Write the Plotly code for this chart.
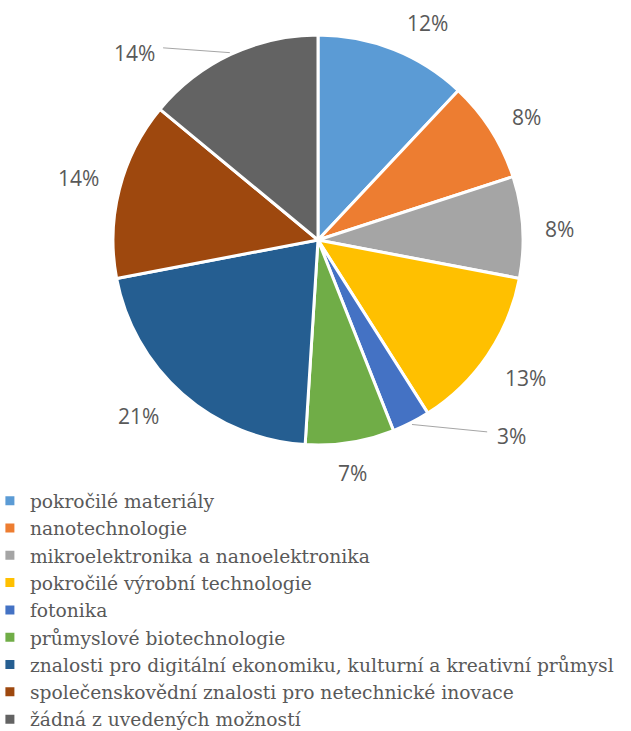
import math
import plotly.graph_objects as go

categories = [
    "pokročilé materiály",
    "nanotechnologie",
    "mikroelektronika a nanoelektronika",
    "pokročilé výrobní technologie",
    "fotonika",
    "průmyslové biotechnologie",
    "znalosti pro digitální ekonomiku, kulturní a kreativní průmysl",
    "společenskovědní znalosti pro netechnické inovace",
    "žádná z uvedených možností",
]
values = [12, 8, 8, 13, 3, 7, 21, 14, 14]
colors = ["#5B9BD5", "#ED7D31", "#A5A5A5", "#FFC000", "#4472C4",
          "#70AD47", "#255E91", "#9E480E", "#636363"]

W, H = 631, 731
CX, CY, R = 318, 240, 205  # pie centre and radius in pixels

# label placement style: (angle shift in degrees from slice middle, radius factor)
label_adjust = [(5.1, 1.184), (1.9, 1.183), (1.0, 1.177), (-0.5, 1.214),
                (-17.6, 1.342), (0.5, 1.149), (4.2, 1.228), (0.1, 1.209),
                (-19.3, 1.28)]
# leader lines: slice index -> (x gap from label centre, y shift)
leader = {4: (24, -4), 8: (29, -5)}

fig = go.Figure()
fig.add_trace(go.Pie(
    labels=categories, values=values, sort=False, direction="clockwise",
    rotation=0,
    marker=dict(colors=colors, line=dict(color="white", width=3)),
    textinfo="none", hoverinfo="label+percent",
    domain=dict(x=[(CX - R) / W, (CX + R) / W], y=[1 - (CY + R) / H, 1 - (CY - R) / H]),
))

total = sum(values)
cum = 0
annotations = []
shapes = []
for i, v in enumerate(values):
    mid = (cum + v / 2) / total * 360
    cum += v
    dang, rf = label_adjust[i]
    a = math.radians(mid + dang)
    lx = CX + R * rf * math.sin(a)
    ly = CY - R * rf * math.cos(a)
    pct = f"{round(v / total * 100)}%"
    annotations.append(dict(x=lx / W, y=1 - ly / H, xref="paper", yref="paper",
                            xanchor="center", yanchor="middle",
                            text=pct, showarrow=False,
                            font=dict(family="Open Sans", size=21, color="#595959")))
    if i in leader:
        gx, gy = leader[i]
        am = math.radians(mid)
        x0 = CX + R * 1.01 * math.sin(am)
        y0 = CY - R * 1.01 * math.cos(am)
        side = 1 if lx < x0 else -1
        x1 = lx + side * gx
        y1 = ly + gy
        shapes.append(dict(type="line", xref="paper", yref="paper",
                           x0=x0 / W, y0=1 - y0 / H, x1=x1 / W, y1=1 - y1 / H,
                           line=dict(color="#A6A6A6", width=1)))

fig.update_layout(
    width=W, height=H,
    margin=dict(l=0, r=0, t=0, b=0, autoexpand=False),
    paper_bgcolor="white", plot_bgcolor="white",
    annotations=annotations, shapes=shapes,
    showlegend=True,
    legend=dict(x=-0.016, y=1 - 482 / H, xanchor="left", yanchor="top",
                orientation="v", traceorder="normal",
                font=dict(family="DejaVu Serif", size=18.7, color="#595959"),
                itemwidth=30, tracegroupgap=0, bgcolor="rgba(0,0,0,0)"),
)
fig.write_html("out.html", config={"displayModeBar": False},
               post_script="document.body.style.margin='0px';")
